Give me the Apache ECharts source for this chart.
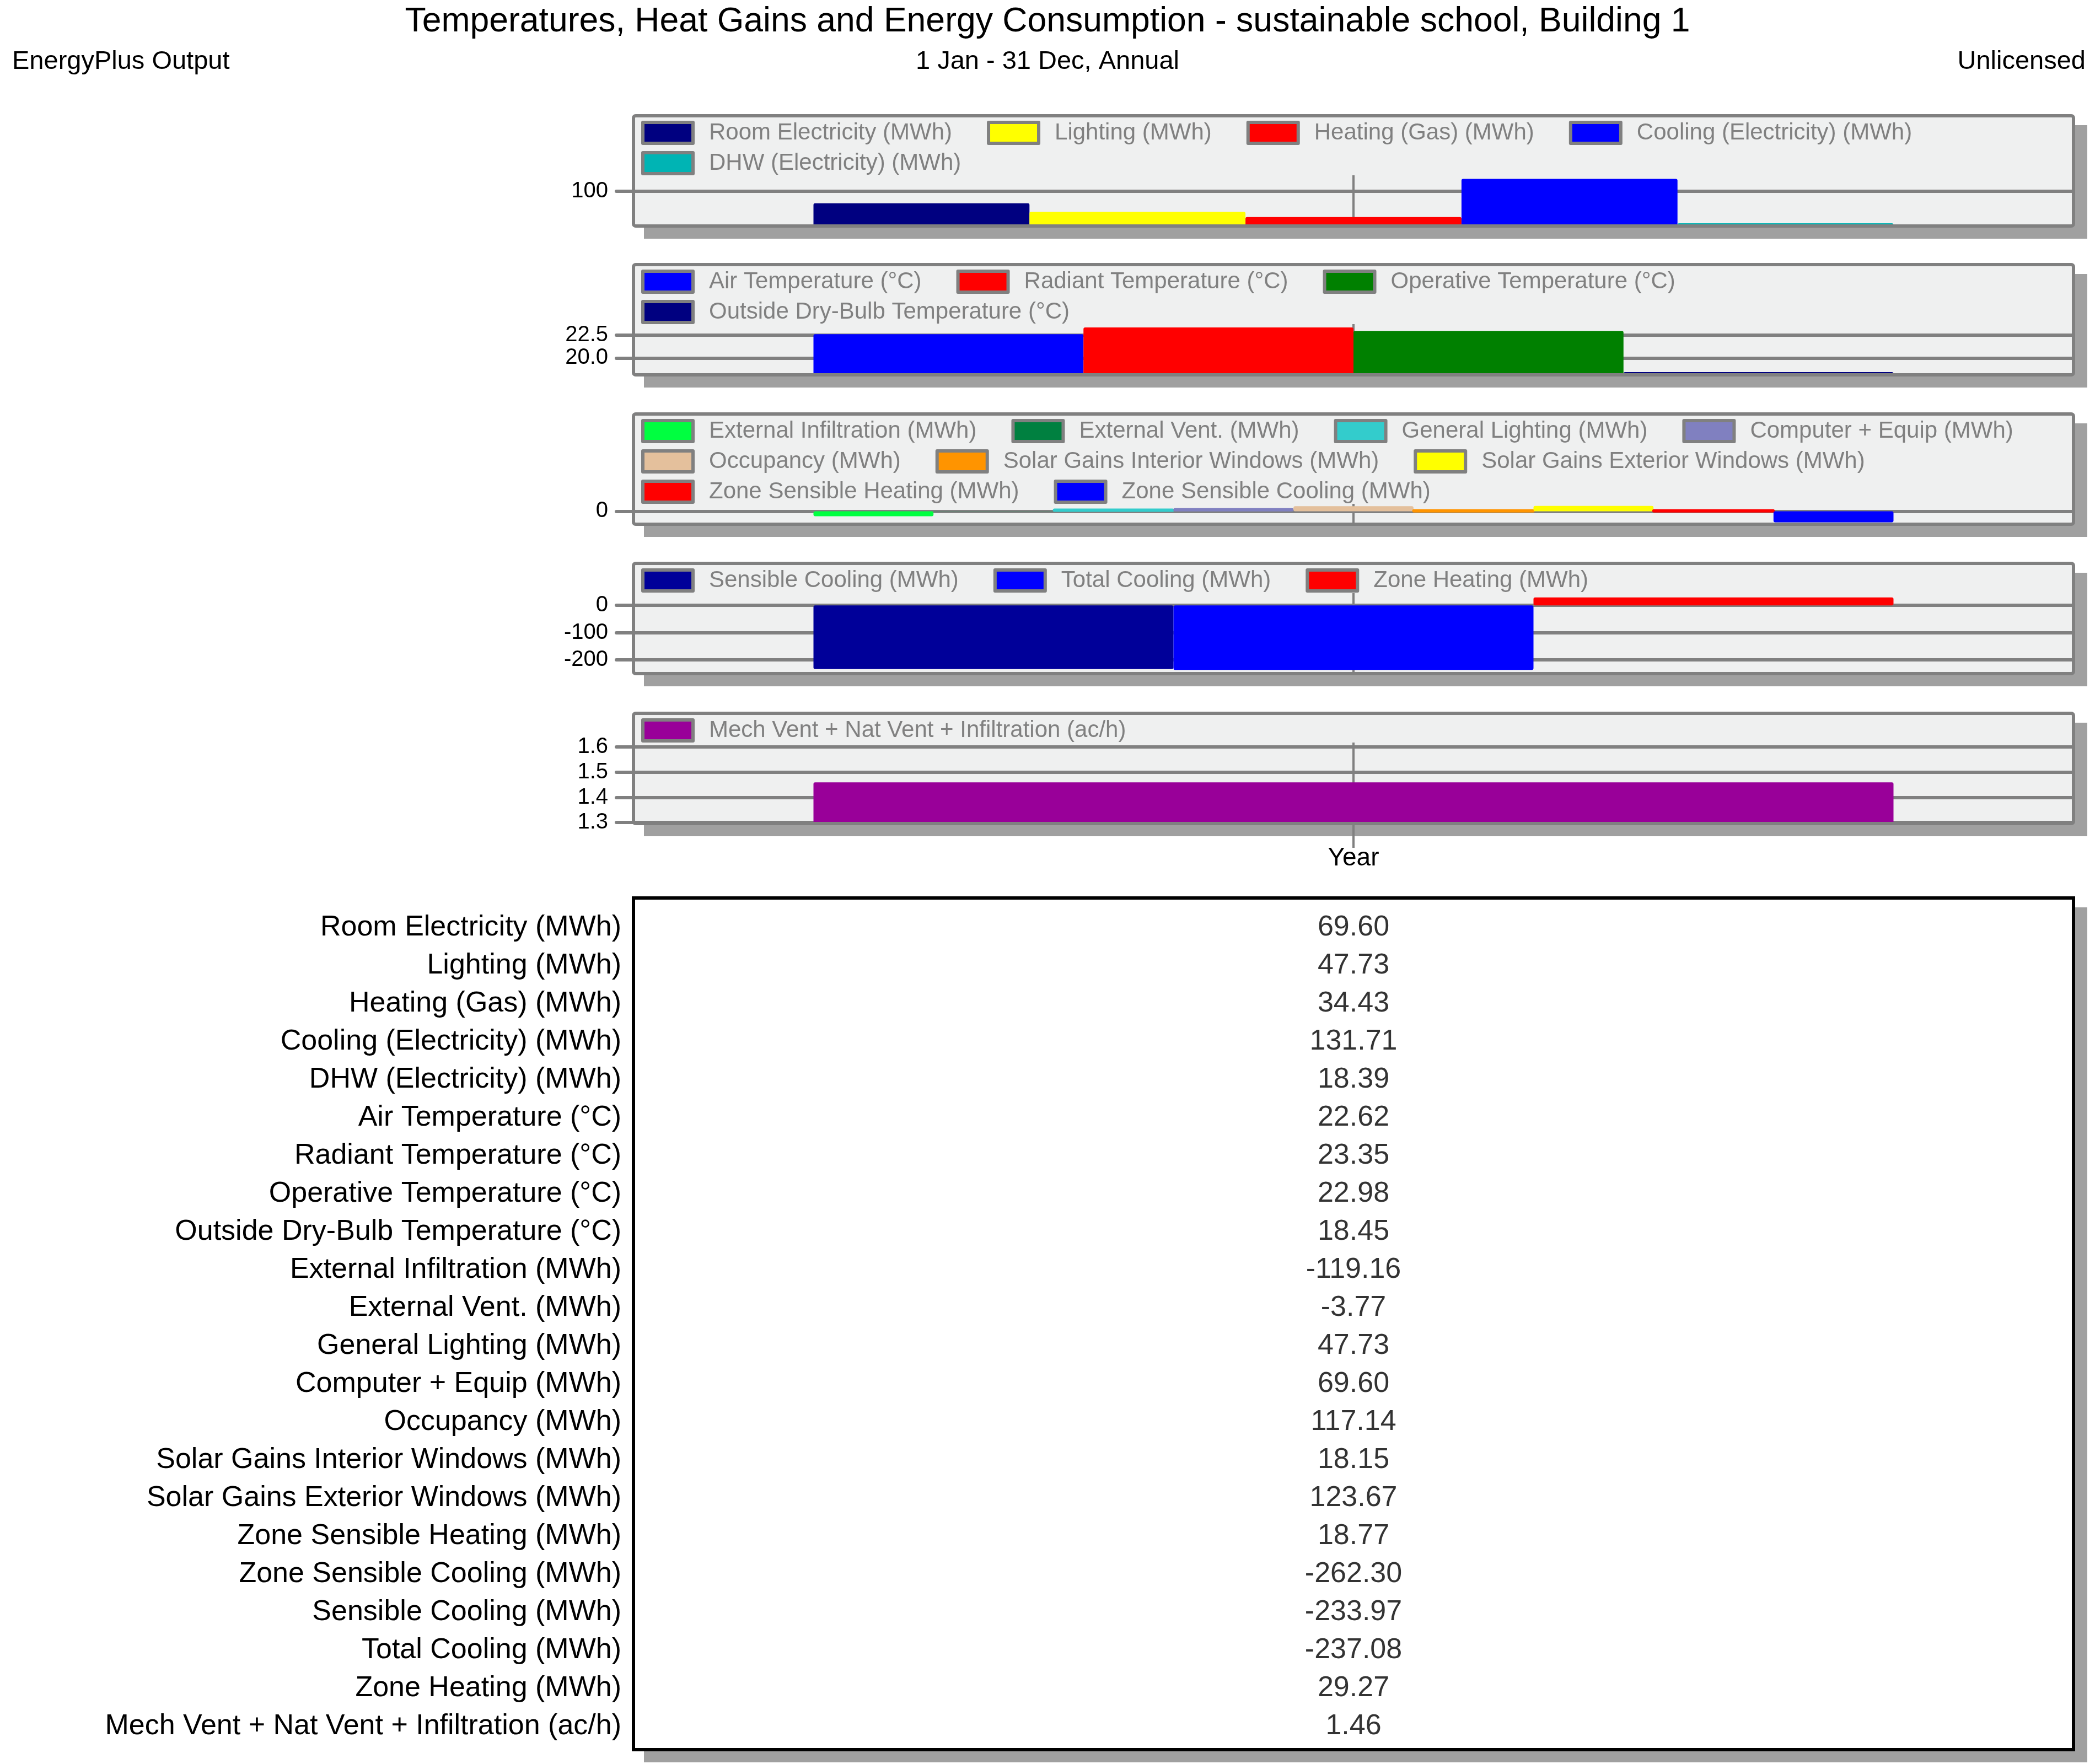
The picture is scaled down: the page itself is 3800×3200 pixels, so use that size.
<!DOCTYPE html>
<html>
<head>
<meta charset="utf-8">
<script src="https://cdn.jsdelivr.net/npm/echarts@6/dist/echarts.min.js"></script>
<style>
  html, body { margin: 0; padding: 0; background: #fff; }
  #charts { width: 3800px; height: 3200px; }
</style>
</head>
<body>
<div id="charts"></div>
<script>
const categories = ["Year"];

// energy consumption
const energyNames = ["Room Electricity (MWh)", "Lighting (MWh)", "Heating (Gas) (MWh)", "Cooling (Electricity) (MWh)", "DHW (Electricity) (MWh)"];
const energyValues = [69.60, 47.73, 34.43, 131.71, 18.39];
const energyTicks = [100];

// temperatures
const tempNames = ["Air Temperature (°C)", "Radiant Temperature (°C)", "Operative Temperature (°C)", "Outside Dry-Bulb Temperature (°C)"];
const tempValues = [22.62, 23.35, 22.98, 18.45];
const tempTicks = [20, 22.5];

// heat gains
const gainNames = ["External Infiltration (MWh)", "External Vent. (MWh)", "General Lighting (MWh)", "Computer + Equip (MWh)", "Occupancy (MWh)", "Solar Gains Interior Windows (MWh)", "Solar Gains Exterior Windows (MWh)", "Zone Sensible Heating (MWh)", "Zone Sensible Cooling (MWh)"];
const gainValues = [-119.16, -3.77, 47.73, 69.60, 117.14, 18.15, 123.67, 18.77, -262.30];
const gainTicks = [0];

// heating / cooling
const coolNames = ["Sensible Cooling (MWh)", "Total Cooling (MWh)", "Zone Heating (MWh)"];
const coolValues = [-233.97, -237.08, 29.27];
const coolTicks = [0, -100, -200];

// ventilation
const ventNames = ["Mech Vent + Nat Vent + Infiltration (ac/h)"];
const ventValues = [1.46];
const ventTicks = [1.3, 1.4, 1.5, 1.6];

// colours
const energyColors = ["#000080", "#ffff00", "#ff0000", "#0000ff", "#00b4b4"];
const tempColors = ["#0000ff", "#ff0000", "#008000", "#000080"];
const gainColors = ["#00ff40", "#008040", "#33cccc", "#8080c0", "#e4c09c", "#ff9400", "#ffff00", "#ff0000", "#0000ff"];
const coolColors = ["#000099", "#0000ff", "#ff0000"];
const ventColors = ["#990099"];

const FONT = "'Liberation Sans', Arial, sans-serif";
const GRAY = "#808080";

const panels = [
  { names: energyNames, values: energyValues, colors: energyColors, ticks: energyTicks, min: 11.5, max: 140.7, rows: [4, 1], top: 207, plotTop: 318, digits: 0 },
  { names: tempNames, values: tempValues, colors: tempColors, ticks: tempTicks, min: 18.15, max: 23.72, rows: [3, 1], top: 477, plotTop: 588, digits: 1 },
  { names: gainNames, values: gainValues, colors: gainColors, ticks: gainTicks, min: -307, max: 174, rows: [4, 3, 2], top: 748, plotTop: 914, digits: 0 },
  { names: coolNames, values: coolValues, colors: coolColors, ticks: coolTicks, min: -250.7, max: 45, rows: [3], top: 1019, plotTop: 1076, digits: 0 },
  { names: ventNames, values: ventValues, colors: ventColors, ticks: ventTicks, min: 1.296, max: 1.618, rows: [1], top: 1291, plotTop: 1347, digits: 1 },
];

let grids = [], xAxes = [], yAxes = [], series = [], legends = [], graphics = [];

panels.forEach((p, i) => {
  const bottom = p.top + 203;
  const h = bottom - p.plotTop;

  // frame with drop shadow
  graphics.push({ type: "rect", z: -20, silent: true, shape: { x: 1168, y: p.top + 20, width: 2618, height: 206 }, style: { fill: "#a0a0a0" } });
  graphics.push({ type: "rect", z: -10, silent: true, shape: { x: 1149, y: p.top + 3, width: 2612, height: 200 }, style: { fill: "#eff0f0" } });
  graphics.push({ type: "rect", z: 100, silent: true, shape: { x: 1149, y: p.top + 3, width: 2612, height: 200, r: 4 }, style: { fill: null, stroke: GRAY, lineWidth: 6 } });

  grids.push({ left: 1149, width: 2612, top: p.plotTop, height: h });

  xAxes.push({
    type: "category",
    gridIndex: i,
    position: "bottom",
    data: categories,
    axisLine: { show: false, onZero: false },
    axisLabel: { show: false },
    axisTick: { show: true, alignWithLabel: true, inside: true, length: h, lineStyle: { color: GRAY, width: 4 } },
    splitLine: { show: false },
  });

  yAxes.push({
    type: "value",
    gridIndex: i,
    min: p.min,
    max: p.max,
    axisLine: { show: false },
    axisTick: { show: true, customValues: p.ticks, length: 31, lineStyle: { color: GRAY, width: 6, cap: "round" } },
    axisLabel: {
      customValues: p.ticks,
      margin: 46,
      fontSize: 40,
      color: "#000",
      fontFamily: FONT,
      formatter: (v) => v.toFixed(p.digits),
    },
    splitLine: { show: true, lineStyle: { color: GRAY, width: 6 } },
  });

  p.names.forEach((name, k) => {
    // bars thinner than a pixel are not outlined (they vanish like in the original)
    const px = Math.abs(p.values[k]) / (p.max - p.min) * h;
    series.push({
      type: "bar",
      name: name,
      xAxisIndex: i,
      yAxisIndex: i,
      data: [p.values[k]],
      barGap: "0%",
      barCategoryGap: "25%",
      silent: true,
      itemStyle: { color: p.colors[k], borderColor: p.colors[k], borderWidth: px < 1 ? 0 : 6, borderJoin: "round" },
    });
  });

  let idx = 0;
  p.rows.forEach((n, r) => {
    legends.push({
      data: p.names.slice(idx, idx + n),
      left: 1163,
      top: p.top + 12 + 55 * r,
      orient: "horizontal",
      padding: 0,
      icon: "rect",
      itemWidth: 91,
      itemHeight: 38,
      itemGap: 63,
      selectedMode: false,
      itemStyle: { borderColor: GRAY, borderWidth: 6 },
      textStyle: { color: GRAY, fontSize: 42, fontFamily: FONT, padding: [0, 0, 0, 24] },
    });
    idx += n;
  });
});

// "Year" label and outer tick on the last panel
xAxes.push({
  type: "category",
  gridIndex: 4,
  position: "bottom",
  data: categories,
  axisLine: { show: false, onZero: false },
  axisTick: { show: true, alignWithLabel: true, length: 44, lineStyle: { color: GRAY, width: 4 } },
  axisLabel: { show: true, margin: 40, fontSize: 46, color: "#000", fontFamily: FONT },
  splitLine: { show: false },
});

// summary table
const tableNames = [...energyNames, ...tempNames, ...gainNames, ...coolNames, ...ventNames];
const tableValues = [...energyValues, ...tempValues, ...gainValues, ...coolValues, ...ventValues];

graphics.push({ type: "rect", z: -20, silent: true, shape: { x: 1168, y: 1646, width: 2618, height: 1551 }, style: { fill: "#a0a0a0" } });
graphics.push({ type: "rect", z: -10, silent: true, shape: { x: 1149, y: 1629, width: 2612, height: 1545 }, style: { fill: "#fff", stroke: "#000", lineWidth: 6 } });

grids.push({ left: 1149, width: 2612, top: 1648.5, height: 1518 });
xAxes.push({ type: "value", gridIndex: 5, min: -1, max: 1, show: false });
yAxes.push({
  type: "category",
  gridIndex: 5,
  data: tableNames,
  inverse: true,
  axisLine: { show: false },
  axisTick: { show: false },
  splitLine: { show: false },
  axisLabel: { interval: 0, margin: 22, fontSize: 52, color: "#000", fontFamily: FONT },
});
series.push({
  type: "scatter",
  xAxisIndex: 6,
  yAxisIndex: 5,
  silent: true,
  symbolSize: 1,
  itemStyle: { color: "rgba(0,0,0,0)" },
  data: tableValues.map((v, i) => [0, tableNames[i], v]),
  label: {
    show: true,
    position: "inside",
    fontSize: 52,
    color: "#000",
    fontFamily: FONT,
    formatter: (p) => p.value[2].toFixed(2),
  },
});

let chartDom = document.getElementById("charts");
let myChart = echarts.init(chartDom);
let option = {
  backgroundColor: "#fff",
  animation: false,
  title: [
    { text: "Temperatures, Heat Gains and Energy Consumption - sustainable school, Building 1", left: "center", top: 8, padding: 0, textStyle: { fontSize: 62.5, fontWeight: "normal", color: "#000", fontFamily: FONT } },
    { text: "EnergyPlus Output", left: 22, top: 89, padding: 0, textStyle: { fontSize: 47, fontWeight: "normal", color: "#000", fontFamily: FONT } },
    { text: "1 Jan - 31 Dec, Annual", left: "center", top: 89, padding: 0, textStyle: { fontSize: 47, fontWeight: "normal", color: "#000", fontFamily: FONT } },
    { text: "Unlicensed", right: 17, top: 89, padding: 0, textStyle: { fontSize: 47, fontWeight: "normal", color: "#000", fontFamily: FONT } },
  ],
  legend: legends,
  grid: grids,
  xAxis: xAxes,
  yAxis: yAxes,
  series: series,
  graphic: graphics,
};

option && myChart.setOption(option);
</script>
</body>
</html>
